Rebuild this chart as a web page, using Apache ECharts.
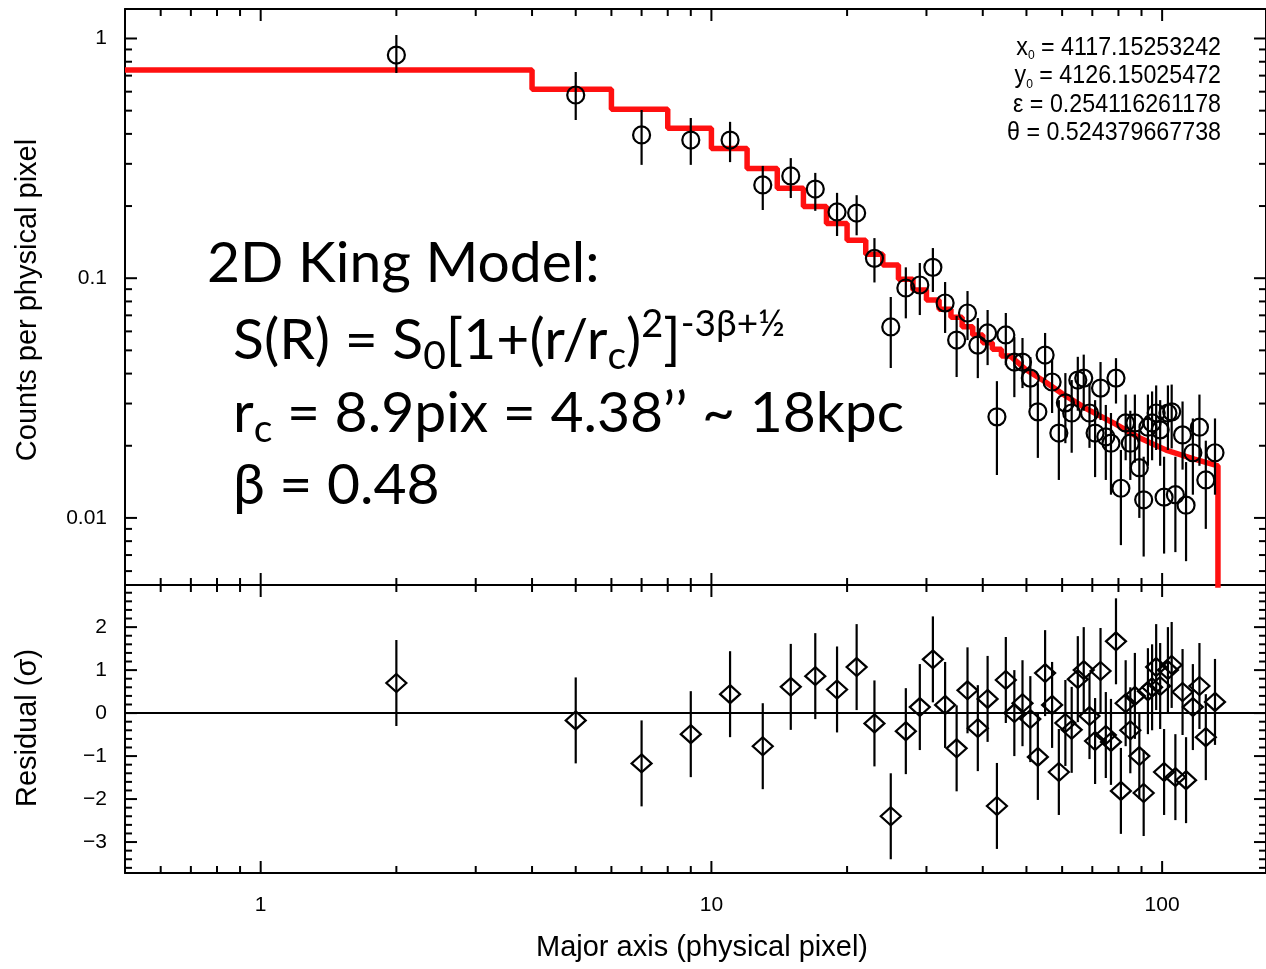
<!DOCTYPE html>
<html><head><meta charset="utf-8">
<script src="https://cdn.jsdelivr.net/npm/echarts@6/dist/echarts.min.js"></script>
<style>html,body{margin:0;padding:0;background:#fff}#c{width:1266px;height:969px}</style>
</head><body><div id="c"></div><script>
// ---------------- data ----------------
const radius = [2,5,7,9,11,13,15,17,19,21,23,25,27,29,31,33,35,37,39,41,43,45,47,49,51,53,55,57,59,61,63,65,67,69,71,73,75,77,79,81,83,85,87,89,91,93,95,97,99,101,103,105,107,111,113,117,121,125,131];
const counts = [0.853,0.581,0.396,0.377,0.377,0.245,0.267,0.2355,0.189,0.187,0.121,0.0626,0.091,0.0937,0.111,0.0788,0.0552,0.0716,0.0526,0.0591,0.0264,0.058,0.0447,0.0447,0.0383,0.0277,0.0478,0.0369,0.0226,0.0302,0.0274,0.0376,0.0383,0.0274,0.0226,0.0348,0.0218,0.0205,0.0383,0.0133,0.0249,0.0205,0.0249,0.0162,0.0119,0.0239,0.0249,0.0274,0.0233,0.0122,0.0274,0.0277,0.0125,0.0222,0.0113,0.0187,0.0239,0.0144,0.0187];
const countsLow = [0.718,0.457,0.297,0.297,0.305,0.1925,0.216,0.191,0.150,0.151,0.096,0.0422,0.068,0.0702,0.0876,0.0591,0.0387,0.0552,0.0383,0.0434,0.0151,0.0434,0.0319,0.0348,0.029,0.0178,0.0376,0.0274,0.0144,0.0205,0.0187,0.028,0.028,0.0196,0.0148,0.0256,0.0144,0.0125,0.030,0.0077,0.0174,0.0144,0.017,0.010,0.0069,0.0165,0.0174,0.0192,0.0165,0.0071,0.0192,0.0195,0.0072,0.0159,0.0066,0.0125,0.0165,0.009,0.0125];
const countsHigh = [1.034,0.725,0.503,0.466,0.449,0.294,0.317,0.275,0.227,0.222,0.147,0.0835,0.111,0.1157,0.1336,0.0964,0.0696,0.0884,0.0682,0.0737,0.0372,0.0716,0.0568,0.0563,0.0469,0.0365,0.0591,0.0456,0.031,0.0402,0.0376,0.047,0.048,0.0365,0.031,0.0447,0.0296,0.0274,0.0464,0.0192,0.0327,0.028,0.0327,0.0233,0.018,0.0327,0.0337,0.0357,0.031,0.018,0.0357,0.036,0.018,0.0306,0.0171,0.026,0.0327,0.021,0.026];
const residual = [0.70,-0.17,-1.17,-0.49,0.44,-0.77,0.61,0.86,0.55,1.07,-0.24,-2.40,-0.42,0.14,1.25,0.19,-0.82,0.53,-0.35,0.33,-2.16,0.77,0.00,0.23,-0.14,-1.02,0.93,0.19,-1.37,-0.23,-0.39,0.79,1.00,-0.07,-0.65,0.98,-0.51,-0.67,1.67,-1.81,0.23,-0.40,0.40,-1.00,-1.86,0.51,0.60,1.07,0.63,-1.37,1.00,1.12,-1.49,0.49,-1.56,0.14,0.63,-0.56,0.26];
const residualErr = 1; // residuals are in units of sigma: bars are +/- 1 sigma
// King model (red): stepped part (bin edges) and smooth tail
const modelStepX = [0.5,4,6,8,10,12,14,16,18,20,22,24,26,28,30,32,34,36,38,40,42,44,46];
const modelStepY = [0.739,0.614,0.507,0.422,0.348,0.287,0.237,0.199,0.169,0.144,0.126,0.1136,0.0989,0.0893,0.0811,0.0742,0.0687,0.0628,0.058,0.0538,0.0505,0.0474,0.0474];
const modelTailX = [46,50,55,60,68,78,89,102,118,133,133];
const modelTailY = [0.0474,0.0414,0.0370,0.0330,0.0285,0.0249,0.0216,0.0192,0.0176,0.0165,0.001];
// axes and ticks
const xRange = [0.5, 170];
const yRange = [0.00525, 1.3275];
const resRange = [-3.72, 2.98];
const xMajorTicks = [1, 10, 100];
const xMinorTicks = [0.6,0.7,0.8,0.9,2,3,4,5,6,7,8,9,20,30,40,50,60,70,80,90];
const yMajorTicks = [0.01, 0.1, 1];
const yMinorTicks = [0.006,0.007,0.008,0.009,0.02,0.03,0.04,0.05,0.06,0.07,0.08,0.09,0.2,0.3,0.4,0.5,0.6,0.7,0.8,0.9];
const resMajorTicks = [-3,-2,-1,0,1,2];
const resMinorTicks = [-3.6,-3.4,-3.2,-2.8,-2.6,-2.4,-2.2,-1.8,-1.6,-1.4,-1.2,-0.8,-0.6,-0.4,-0.2,0.2,0.4,0.6,0.8,1.2,1.4,1.6,1.8,2.2,2.4,2.6,2.8];
const fitParams = [['x','0','4117.15253242'],['y','0','4126.15025472'],['\u03b5','','0.254116261178'],['\u03b8','','0.524379667738']];

// ---------------- chart ----------------
const FN = "'Liberation Sans Narrow','Liberation Sans',Arial,sans-serif";
const FS = "'Liberation Sans',Arial,sans-serif";
const FB = "Lato,'Open Sans',sans-serif";
const chart = echarts.init(document.getElementById('c'), null, {renderer:'canvas'});
const LINE = {lineStyle:{color:'#000', width:2}};
const MAJ = 12, MIN = 7;

function baseX(grid, pos, labels) {
  return {type:'log', logBase:10, gridIndex:grid, position:pos, min:xRange[0], max:xRange[1],
    axisLine:{show:true, onZero:false, ...LINE}, axisTick:{show:false}, splitLine:{show:false},
    axisLabel:{show:labels, showMinLabel:false, showMaxLabel:false, margin:22, color:'#000', fontSize:21, fontFamily:FS,
      formatter: v => String(Number(Number(v).toPrecision(1)))}};
}
function tickSeries(xi, yi, values, dir, len, ref) {
  return {type:'custom', xAxisIndex:xi, yAxisIndex:yi, silent:true, z:6, clip:false,
    data: values.map(v => dir === 'x' ? [v, ref] : [ref, v]),
    renderItem(params, api) {
      const cs = params.coordSys;
      const st = {stroke:'#000', lineWidth:2};
      if (dir === 'x') {
        const px = api.coord([api.value(0), ref])[0];
        return {type:'group', children:[
          {type:'line', shape:{x1:px, y1:cs.y, x2:px, y2:cs.y + len}, style:st},
          {type:'line', shape:{x1:px, y1:cs.y + cs.height, x2:px, y2:cs.y + cs.height - len}, style:st}]};
      }
      const py = api.coord([ref, api.value(1)])[1];
      return {type:'group', children:[
        {type:'line', shape:{x1:cs.x, y1:py, x2:cs.x + len, y2:py}, style:st},
        {type:'line', shape:{x1:cs.x + cs.width, y1:py, x2:cs.x + cs.width - len, y2:py}, style:st}]};
    }};
}

const graphics = [];
fitParams.forEach((p, i) => {
  graphics.push({type:'text', x:1221, y:48 + i * 28.5, z:50, scaleX:0.93, style:{
    text:'{a|' + p[0] + '}' + (p[1] ? '{s|' + p[1] + '}' : '') + '{a| = ' + p[2] + '}',
    align:'right', verticalAlign:'middle',
    rich:{a:{fontSize:25, fontFamily:FN, fill:'#000', lineHeight:28},
          s:{fontSize:13, fontFamily:FN, fill:'#000', lineHeight:18, verticalAlign:'bottom'}}}});
});
const bigRich = {
  m:{fontSize:57, fontFamily:FB, fill:'#000', lineHeight:70},
  sub:{fontSize:39, fontFamily:FB, fill:'#000', lineHeight:28, verticalAlign:'bottom'},
  sup:{fontSize:38, fontFamily:FB, fill:'#000', lineHeight:54, verticalAlign:'top'},
  sup2:{fontSize:37, fontFamily:FB, fill:'#000', lineHeight:48, verticalAlign:'top'}
};
const bigLines = [
  [207, 264, '{m|2D King Model:}'],
  [233, 341, '{m|S(R) = S}{sub|0}{m|[1+(r/r}{sub|c}{m|)}{sup|2}{m|]}{sup2|-3\u03b2+\u00bd}'],
  [233, 414, '{m|r}{sub|c}{m| = 8.9pix = 4.38\u2019\u2019 ~ 18kpc}'],
  [233, 486, '{m|\u03b2 = 0.48}']
];
bigLines.forEach(l => graphics.push({type:'text', x:l[0], y:l[1], z:50,
  style:{text:l[2], align:'left', verticalAlign:'middle', rich:bigRich}}));
graphics.push({type:'text', x:28, y:300, rotation:Math.PI/2, z:50, style:{text:'Counts per physical pixel', align:'center', verticalAlign:'middle', fontSize:29, fontFamily:FN, fill:'#000'}});
graphics.push({type:'text', x:28, y:728, rotation:Math.PI/2, z:50, style:{text:'Residual (\u03c3)', align:'center', verticalAlign:'middle', fontSize:29, fontFamily:FN, fill:'#000'}});
graphics.push({type:'text', x:702, y:948, z:50, style:{text:'Major axis (physical pixel)', align:'center', verticalAlign:'middle', fontSize:29, fontFamily:FN, fill:'#000'}});

const option = {
  animation:false,
  backgroundColor:'#fff',
  grid:[{left:125, top:9, width:1144, height:576}, {left:125, top:585, width:1144, height:288}],
  xAxis:[baseX(0,'bottom',false), baseX(0,'top',false), baseX(1,'bottom',true), baseX(1,'top',false)],
  yAxis:[
    {type:'log', logBase:10, gridIndex:0, position:'left', min:yRange[0], max:yRange[1],
      axisLine:{show:true, onZero:false, ...LINE}, axisTick:{show:false}, splitLine:{show:false},
      axisLabel:{show:true, showMinLabel:false, showMaxLabel:false, margin:18, color:'#000', fontSize:21, fontFamily:FS,
        formatter: v => String(Number(Number(v).toPrecision(1)))}},
    {type:'log', logBase:10, gridIndex:0, position:'right', min:yRange[0], max:yRange[1],
      axisLine:{show:true, onZero:false, ...LINE}, axisTick:{show:false}, splitLine:{show:false}, axisLabel:{show:false}},
    {type:'value', gridIndex:1, position:'left', min:resRange[0], max:resRange[1],
      axisLine:{show:true, onZero:false, ...LINE}, axisTick:{show:false}, splitLine:{show:false},
      axisLabel:{show:true, customValues:resMajorTicks, margin:18, color:'#000', fontSize:21, fontFamily:FS,
        formatter: v => v < 0 ? '\u2212' + (-v) : String(v)}},
    {type:'value', gridIndex:1, position:'right', min:resRange[0], max:resRange[1],
      axisLine:{show:true, onZero:false, ...LINE}, axisTick:{show:false}, splitLine:{show:false}, axisLabel:{show:false}}
  ],
  graphic: graphics,
  series:[
    {type:'line', xAxisIndex:0, yAxisIndex:0, step:'end', symbol:'none', z:3,
      data: modelStepX.map((x, i) => [x, modelStepY[i]]), lineStyle:{color:'#ff1010', width:5.5}},
    {type:'line', xAxisIndex:0, yAxisIndex:0, symbol:'none', z:3, clip:true,
      data: modelTailX.map((x, i) => [x, modelTailY[i]]), lineStyle:{color:'#ff1010', width:5.5}},
    {type:'custom', xAxisIndex:0, yAxisIndex:0, z:4,
      data: radius.map((x, i) => [x, counts[i], countsLow[i], countsHigh[i]]),
      renderItem(params, api) {
        const x = api.value(0);
        const c = api.coord([x, api.value(1)]), a = api.coord([x, api.value(2)]), b = api.coord([x, api.value(3)]);
        const st = {stroke:'#000', lineWidth:2.2, fill:null};
        return {type:'group', children:[
          {type:'line', shape:{x1:a[0], y1:a[1], x2:b[0], y2:b[1]}, style:st},
          {type:'circle', shape:{cx:c[0], cy:c[1], r:8.5}, style:{stroke:'#000', lineWidth:2.2, fill:'rgba(0,0,0,0)'}}]};
      }},
    {type:'custom', xAxisIndex:2, yAxisIndex:2, z:4,
      data: radius.map((x, i) => [x, residual[i]]),
      renderItem(params, api) {
        const x = api.value(0), r = api.value(1);
        const c = api.coord([x, r]), a = api.coord([x, r - residualErr]), b = api.coord([x, r + residualErr]);
        return {type:'group', children:[
          {type:'line', shape:{x1:a[0], y1:a[1], x2:b[0], y2:b[1]}, style:{stroke:'#000', lineWidth:2.2}},
          {type:'polygon', shape:{points:[[c[0], c[1]-9],[c[0]+10, c[1]],[c[0], c[1]+9],[c[0]-10, c[1]]]}, style:{stroke:'#000', lineWidth:2.2, fill:'rgba(0,0,0,0)'}}]};
      },
      markLine:{silent:true, symbol:'none', label:{show:false}, lineStyle:{color:'#000', width:2, type:'solid'}, data:[{yAxis:0}]}},
    tickSeries(0, 0, xMajorTicks, 'x', MAJ, 0.1),
    tickSeries(0, 0, xMinorTicks, 'x', MIN, 0.1),
    tickSeries(2, 2, xMajorTicks, 'x', MAJ, 0),
    tickSeries(2, 2, xMinorTicks, 'x', MIN, 0),
    tickSeries(0, 0, yMajorTicks, 'y', MAJ, 1),
    tickSeries(0, 0, yMinorTicks, 'y', MIN, 1),
    tickSeries(2, 2, resMajorTicks, 'y', MAJ, 1),
    tickSeries(2, 2, resMinorTicks, 'y', MIN, 1)
  ]
};
chart.setOption(option);
</script></body></html>
